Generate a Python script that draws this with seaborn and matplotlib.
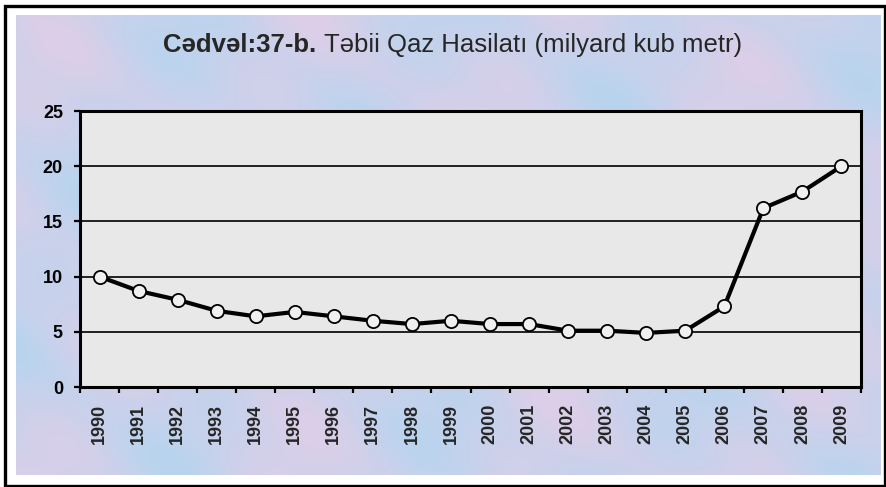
import numpy as np
import pandas as pd
import matplotlib
matplotlib.use("Agg")
import matplotlib.pyplot as plt
import seaborn as sns
from matplotlib.patches import Rectangle

# ---- data ----
years = [1990, 1991, 1992, 1993, 1994, 1995, 1996, 1997, 1998, 1999,
         2000, 2001, 2002, 2003, 2004, 2005, 2006, 2007, 2008, 2009]
production = [10.0, 8.7, 7.9, 6.9, 6.4, 6.8, 6.4, 6.0, 5.7, 6.0,
              5.7, 5.7, 5.1, 5.1, 4.9, 5.1, 7.3, 16.2, 17.7, 20.0]
y_ticks = [0, 5, 10, 15, 20, 25]
year_labels = [str(y) for y in years]
title_bold = "Cədvəl:37-b."
title_rest = "Təbii Qaz Hasilatı (milyard kub metr)"

sns.set_style("white")
plt.rcParams["font.family"] = ["Liberation Sans", "DejaVu Sans"]

W, H = 887, 487
fig = plt.figure(figsize=(W / 100, H / 100), dpi=100, facecolor="white")

# decorative soft background panel
bg = fig.add_axes([16 / W, 1 - 475 / H, (881 - 16) / W, (475 - 15) / H], zorder=0)
gx, gy = np.meshgrid(np.linspace(0, 1, 440), np.linspace(0, 1, 230))
f = 0.5 + 0.22 * np.sin(23 * gx + 7 * gy) + 0.18 * np.sin(13 * gy - 17 * gx + 1.3) \
    + 0.1 * np.sin(41 * gx - 29 * gy + 0.7)
f = np.clip(f, 0, 1)
c1 = np.array([184, 212, 238]) / 255.0
c2 = np.array([222, 206, 232]) / 255.0
img = c1 * (1 - f)[..., None] + c2 * f[..., None]
bg.imshow(img, aspect="auto", interpolation="bilinear")
bg.axis("off")

# main plot
ax = fig.add_axes([80 / W, 1 - 387 / H, (861 - 80) / W, (387 - 111) / H], zorder=1)
ax.set_facecolor("#e8e8e8")
df = pd.DataFrame({"year": years, "value": production})
sns.lineplot(data=df, x="year", y="value", ax=ax, color="black", lw=3.0,
             marker="o", markersize=9.5, markerfacecolor="#f0f0f0",
             markeredgecolor="black", markeredgewidth=1.3, zorder=3)
ax.set_xlim(years[0] - 0.5, years[-1] + 0.5)
ax.set_ylim(y_ticks[0], y_ticks[-1])
ax.set_xlabel("")
ax.set_ylabel("")

ax.set_yticks(y_ticks)
ax.set_yticklabels([str(t) for t in y_ticks], fontweight="bold", fontsize=13)
ax.yaxis.grid(True, color="black", lw=1.2)
ax.set_axisbelow(True)
ax.tick_params(axis="y", which="major", length=4.3, width=1.6, direction="out",
               pad=8, left=True, colors="black")

ax.set_xticks(years)
ax.set_xticklabels(year_labels, rotation=90, fontweight="bold", fontsize=13)
ax.tick_params(axis="x", which="major", length=0, pad=12.2)
ax.set_xticks(np.arange(years[0] - 0.5, years[-1] + 1.0, 1.0), minor=True)
ax.tick_params(axis="x", which="minor", length=4, width=1.6, direction="out",
               bottom=True, color="black")

for s in ax.spines.values():
    s.set_color("black")
    s.set_linewidth(2.2)

# title (bold part + regular part)
t1 = fig.text(163 / W, 1 - 52 / H, title_bold, fontsize=18.5, fontweight="bold",
              ha="left", va="baseline", zorder=5)
fig.canvas.draw()
bb = t1.get_window_extent(renderer=fig.canvas.get_renderer())
fig.text((bb.x1 + 8) / W, 1 - 52 / H, title_rest, fontsize=18.5,
         ha="left", va="baseline", zorder=5)

# outer frame
fig.add_artist(Rectangle((5.5 / W, 1.5 / H), 880 / W, 480 / H,
                         transform=fig.transFigure, fill=False,
                         lw=2.4, ec="black", zorder=10))

fig.savefig("out.png", dpi=100, facecolor=fig.get_facecolor())
